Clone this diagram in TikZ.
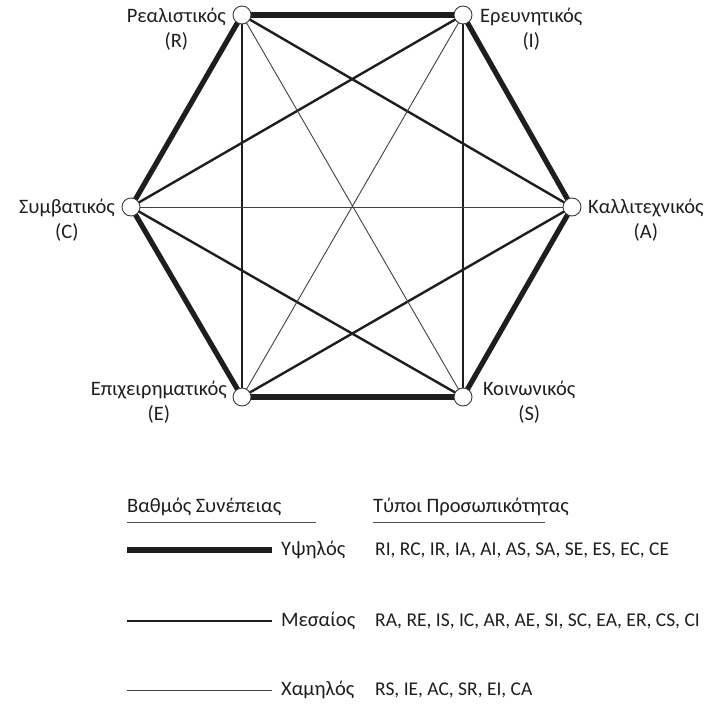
\documentclass[tikz,border=0pt]{standalone}
\usepackage{fontspec}
\setmainfont{Carlito}
\usetikzlibrary{positioning,backgrounds}
\definecolor{ink}{RGB}{30,30,30}
\definecolor{rim}{RGB}{60,60,60}
\tikzset{
  vertex/.style={circle,draw=rim,fill=white,line width=0.9pt,minimum size=18pt,inner sep=0pt},
  high/.style={draw=ink,line width=5.2pt},
  mid/.style={draw=ink,line width=2.4pt},
  low/.style={draw=ink!85,line width=0.9pt},
  typelabel/.style={font=\fontsize{20.5}{25}\selectfont,text=ink,align=center,inner sep=0pt},
  legtext/.style={font=\fontsize{20.5}{24}\selectfont,text=ink,inner sep=0pt},
  listtext/.style={legtext,font=\fontsize{19.5}{24}\selectfont},
}

\begin{document}
\begin{tikzpicture}[x=1pt,y=-1pt]
  \useasboundingbox (0,0) rectangle (710,706);
  % hexagon corners
  \node[vertex] (R) at (242,15) {};
  \node[vertex] (I) at (463,15) {};
  \node[vertex] (A) at (572,207) {};
  \node[vertex] (S) at (463,397) {};
  \node[vertex] (E) at (242,397) {};
  \node[vertex] (C) at (131,207) {};
  \node[typelabel,anchor=east] (Rl) at (226,29) {Ρεαλιστικός\\(R)};
  \node[typelabel,anchor=west] (Il) at (480,29) {Ερευνητικός\\(I)};
  \node[typelabel,anchor=west] (Al) at (588,220) {Καλλιτεχνικός\\(A)};
  \node[typelabel,anchor=west] (Sl) at (483,402) {Κοινωνικός\\(S)};
  \node[typelabel,anchor=east] (El) at (227,402) {Επιχειρηματικός\\(E)};
  \node[typelabel,anchor=east] (Cl) at (115,220) {Συμβατικός\\(C)};
  \begin{scope}[on background layer]
    \foreach \a/\b in {R/I,I/A,A/S,S/E,E/C,C/R}
      \draw[high] (\a.center) -- (\b.center);
    \foreach \a/\b in {R/A,R/E,I/S,I/C,A/E,S/C}
      \draw[mid] (\a.center) -- (\b.center);
    \foreach \a/\b in {R/S,I/E,A/C}
      \draw[low] (\a.center) -- (\b.center);
  \end{scope}
  % legend
  \node[legtext,anchor=west] (deg) at (127,507) {Βαθμός Συνέπειας};
  \node[legtext,anchor=west] (types) at (373,507) {Τύποι Προσωπικότητας};
  \coordinate (degR) at (316,522);
  \coordinate (typesR) at (545,522);
  \draw[ink!80,line width=1pt] (deg.west |- degR) -- (degR);
  \draw[ink!80,line width=1pt] (types.west |- typesR) -- (typesR);
  \node[legtext,anchor=west] (hi) at (281,550) {Υψηλός};
  \node[legtext,anchor=west] (me) at (281,621) {Μεσαίος};
  \node[legtext,anchor=west] (lo) at (281,690) {Χαμηλός};
  \node[listtext,anchor=west] (hiList) at (375,550) {RI, RC, IR, IA, AI, AS, SA, SE, ES, EC, CE};
  \node[listtext,anchor=west] (meList) at (375,621) {RA, RE, IS, IC, AR, AE, SI, SC, EA, ER, CS, CI};
  \node[listtext,anchor=west] (loList) at (375,690) {RS, IE, AC, SR, EI, CA};
  \coordinate (hiL) at (127,550);
  \coordinate (meL) at (127,621);
  \coordinate (loL) at (127,690);
  \draw[high,line width=6pt] (hiL) -- ([xshift=-9pt]hi.west);
  \draw[mid] (meL) -- ([xshift=-9pt]me.west);
  \draw[low] (loL) -- ([xshift=-9pt]lo.west);
\end{tikzpicture}
\end{document}
